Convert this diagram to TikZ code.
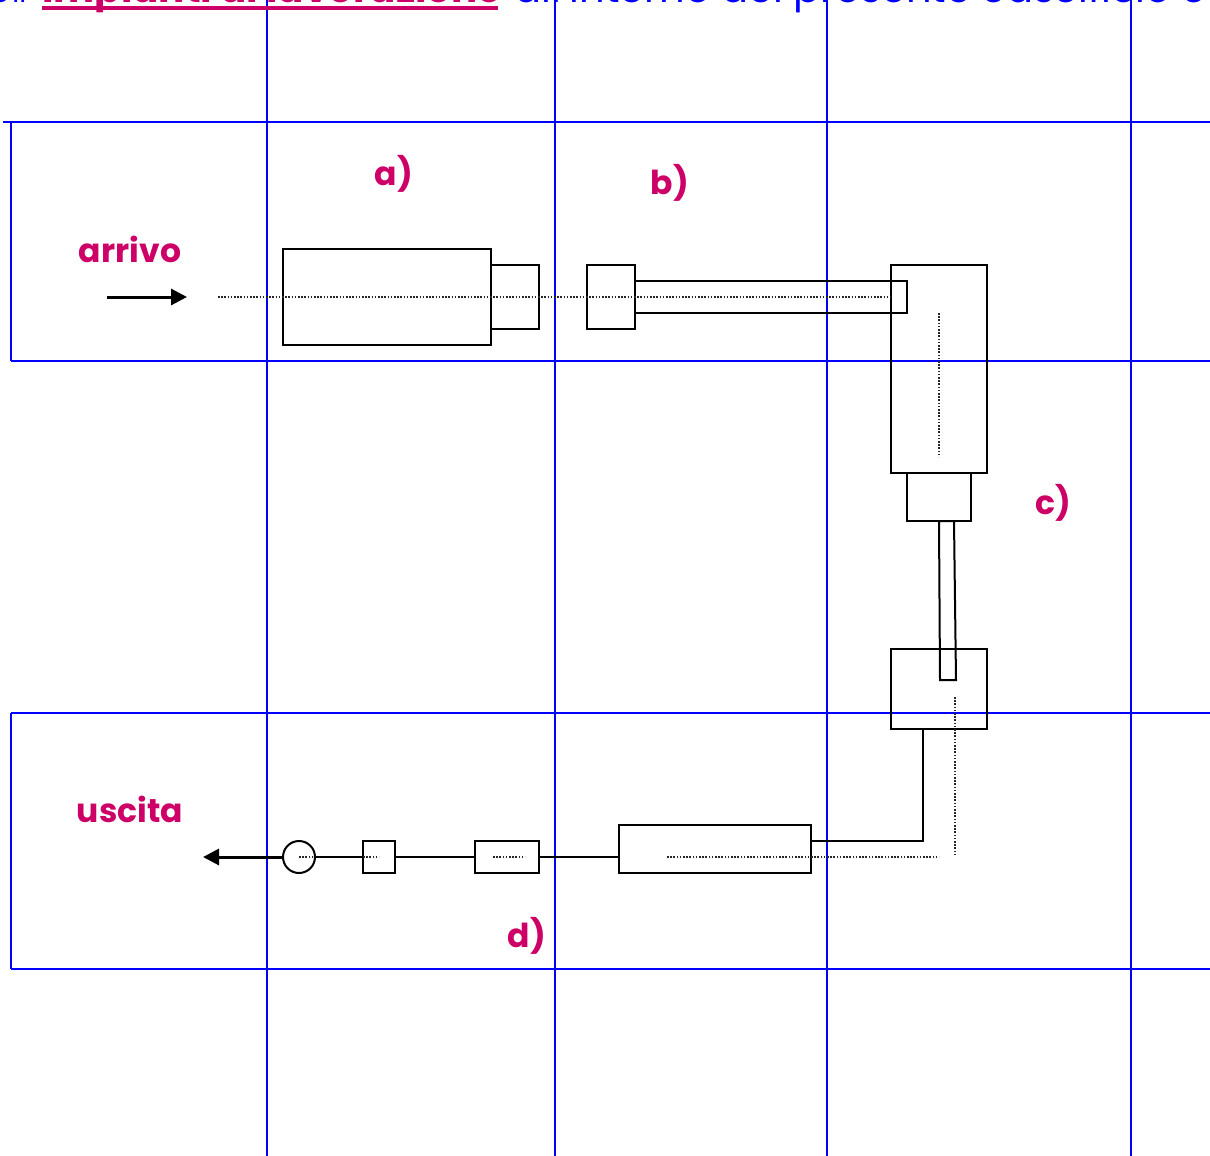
\documentclass[tikz,border=0pt]{standalone}
\usepackage{fontspec}
\setmainfont{Poppins}
\usetikzlibrary{arrows.meta}
\definecolor{lab}{HTML}{CC0066}
\definecolor{gridblue}{HTML}{0000FF}
\tikzset{
 x=1pt,y=-1pt,
 gridline/.style={gridblue,line width=1.8pt},
 part/.style={draw=black,line width=2pt,inner sep=0pt,outer sep=0pt,rectangle},
 roundpart/.style={draw=black,line width=2pt,inner sep=0pt,outer sep=0pt,circle,minimum size=32pt},
 wire/.style={black,line width=2pt},
 flow/.style={black,line width=3pt,-{Triangle[length=16pt,width=16pt]}},
 axis/.style={black!85,line width=1.3pt,dash pattern=on 1.6pt off 1.6pt},
 tag/.style={text=lab,font=\fontsize{33}{36}\selectfont\bfseries,inner sep=0pt},
 head/.style={inner sep=0pt,font=\fontsize{40}{42}\selectfont},
}
\newcommand{\boxat}[5]{\node[part,anchor=north west,minimum width=#4pt,minimum height=#5pt] (#1) at (#2,#3) {};}
\begin{document}
\begin{tikzpicture}
\useasboundingbox (0,0) rectangle (1210,1156);
\clip (0,0) rectangle (1210,1156);
% grid
\foreach \gx in {267,555,827,1131} \draw[gridline] (\gx,0) -- (\gx,1156);
\draw[gridline] (3,122) -- (1210,122);
\draw[gridline] (11,361) -- (1210,361);
\draw[gridline] (11,713) -- (1210,713);
\draw[gridline] (11,969) -- (1210,969);
\draw[gridline] (11,122) -- (11,361);
\draw[gridline] (11,713) -- (11,969);
% heading
\node[head,text=gridblue,anchor=base east,font=\fontsize{30}{32}\selectfont] (h0) at (27,3) {Gli};
\node[head,text=lab,anchor=base west,font=\fontsize{38.8}{40}\selectfont\bfseries] (h1) at (42,3) {impianti di lavorazione};
\node[head,text=gridblue,anchor=base west] (h2) at (514,3) {all'interno del presente caseificio e};
\coordinate (u1) at (42,8);\coordinate (u2) at (498,8);
\draw[lab,line width=3.4pt] (u1) -- (u2);
% parts
\boxat{a1}{283}{249}{208}{96}
\boxat{a2}{491}{265}{48}{64}
\boxat{b1}{587}{265}{48}{64}
\boxat{b2}{635}{281}{272}{32}
\boxat{c1}{891}{265}{96}{208}
\boxat{c2}{907}{473}{64}{48}
\boxat{c4}{891}{649}{96}{80}
\boxat{d1}{619}{825}{192}{48}
\boxat{d2}{475}{841}{64}{32}
\boxat{d3}{363}{841}{32}{32}
\node[roundpart] (d4) at (299,857) {};
% slightly skewed rod
\coordinate (r1) at (939,521);\coordinate (r2) at (954,521);\coordinate (r3) at (956,680);\coordinate (r4) at (940,680);
\draw[wire] (r1) -- (r2) -- (r3) -- (r4) -- cycle;
% wires
\coordinate (bend) at (923,841);
\coordinate (c4s) at (923,729);
\coordinate (d1e) at (811,841);
\draw[wire] (c4s) -- (bend) -- (d1e);
\draw[wire] (d1.west |- d2.east) -- (d2.east);
\draw[wire] (d2.west) -- (d3.east);
\draw[wire] (d3.west) -- (d4.east);
% arrows
\coordinate (inS) at (107,297);\coordinate (inE) at (187,297);
\draw[flow] (inS) -- (inE);
\coordinate (outE) at (203,857);
\draw[flow] (d4.west) -- (outE);
% axes
\coordinate (x1) at (218,297);\coordinate (x2) at (891,297);
\coordinate (x3) at (939,313);\coordinate (x4) at (939,457);
\coordinate (x5) at (955,697);\coordinate (x6) at (955,855);
\coordinate (x7) at (667,857);\coordinate (x8) at (939,857);
\coordinate (x9) at (493,857);\coordinate (x10) at (525,857);
\coordinate (x11) at (363,857);\coordinate (x12) at (379,857);
\coordinate (x13) at (299,857);\coordinate (x14) at (315,857);
\draw[axis] (x1) -- (x2);
\draw[axis] (x3) -- (x4);
\draw[axis] (x5) -- (x6);
\draw[axis] (x7) -- (x8);
\draw[axis] (x9) -- (x10);
\draw[axis] (x11) -- (x12);
\draw[axis] (x13) -- (x14);
% labels
\node[tag] (la) at (394,174) {a)};
\node[tag] (lb) at (670,183) {b)};
\node[tag] (lc) at (1053,503) {c)};
\node[tag] (ld) at (527,936) {d)};
\node[tag] (larr) at (130,249) {arrivo};
\node[tag] (lusc) at (130,809) {uscita};
\end{tikzpicture}
\end{document}
